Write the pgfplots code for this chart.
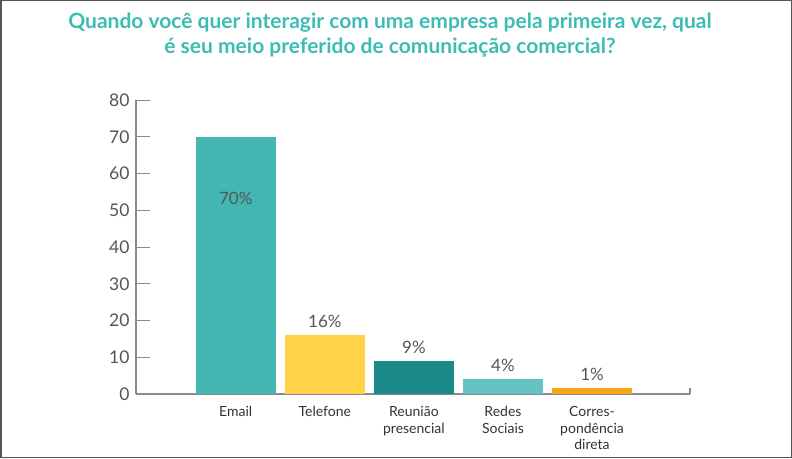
\documentclass[border=0pt]{standalone}
\usepackage{pgfplots}
\pgfplotsset{compat=1.18}
\usepackage{fontspec}
\setmainfont{Lato}
\definecolor{cEmail}{HTML}{43B6B2}
\definecolor{cTel}{HTML}{FFD248}
\definecolor{cReu}{HTML}{1B8A89}
\definecolor{cRed}{HTML}{65C3C3}
\definecolor{cCor}{HTML}{F5A716}
\definecolor{cTitle}{HTML}{3DBCB4}
\definecolor{cTxt}{HTML}{555555}
\definecolor{cAx}{HTML}{8A8A8A}
\begin{document}
\begin{tikzpicture}[x=1pt,y=1pt]
\draw[color=cTxt, line width=1.5pt] (0.75,0.75) rectangle (791.25,457.25);
\node[color=cTitle, font=\fontsize{21}{24.5}\selectfont\bfseries, align=center, anchor=center] at (390,423) {Quando você quer interagir com uma empresa pela primeira vez, qual\\é seu meio preferido de comunicação comercial?};
\begin{axis}[
  at={(136pt,64pt)}, anchor=south west,
  scale only axis, width=554pt, height=294pt,
  xmin=-1.12, xmax=5.1, ymin=0, ymax=80,
  axis x line=bottom, axis y line=left,
  axis line style={draw=cAx, line width=1.5pt, -},
  ytick={0,10,...,80},
  xtick={0,1,2,3,4},
  xticklabels={Email,Telefone,{Reunião\\presencial},{Redes\\Sociais},{Corres-\\pondência\\direta}},
  xticklabel style={align=center, font=\fontsize{14}{16.5}\selectfont, text=black!80, anchor=north, yshift=-9pt},
  major x tick style={draw=none},
  yticklabel style={font=\fontsize{17.5}{19}\selectfont, text=cTxt, xshift=-3pt},
  /pgf/number format/assume math mode=true,
  y tick style={draw=cAx, line width=1pt},
  tick align=inside,
  major tick length=14pt,
  clip=false,
]
\addplot[ybar, bar width=80pt, fill=cEmail, draw=none, bar shift=0pt] coordinates {(0,70)};
\addplot[ybar, bar width=80pt, fill=cTel, draw=none, bar shift=0pt] coordinates {(1,16)};
\addplot[ybar, bar width=80pt, fill=cReu, draw=none, bar shift=0pt] coordinates {(2,9)};
\addplot[ybar, bar width=80pt, fill=cRed, draw=none, bar shift=0pt] coordinates {(3,4)};
\addplot[ybar, bar width=80pt, fill=cCor, draw=none, bar shift=0pt] coordinates {(4,1.7)};
\node[text=cTxt, font=\fontsize{17}{19}\selectfont] at (axis cs:0,53.3) {70\%};
\node[text=cTxt, font=\fontsize{17}{19}\selectfont, anchor=south] at (axis cs:1,16) [yshift=4pt] {16\%};
\node[text=cTxt, font=\fontsize{17}{19}\selectfont, anchor=south] at (axis cs:2,9) [yshift=4pt] {9\%};
\node[text=cTxt, font=\fontsize{17}{19}\selectfont, anchor=south] at (axis cs:3,4) [yshift=4pt] {4\%};
\node[text=cTxt, font=\fontsize{17}{19}\selectfont, anchor=south] at (axis cs:4,1.7) [yshift=4pt] {1\%};
\draw[draw=cAx, line width=1.5pt] (rel axis cs:1,0) -- ([yshift=6pt]rel axis cs:1,0);
\end{axis}
\end{tikzpicture}
\end{document}
